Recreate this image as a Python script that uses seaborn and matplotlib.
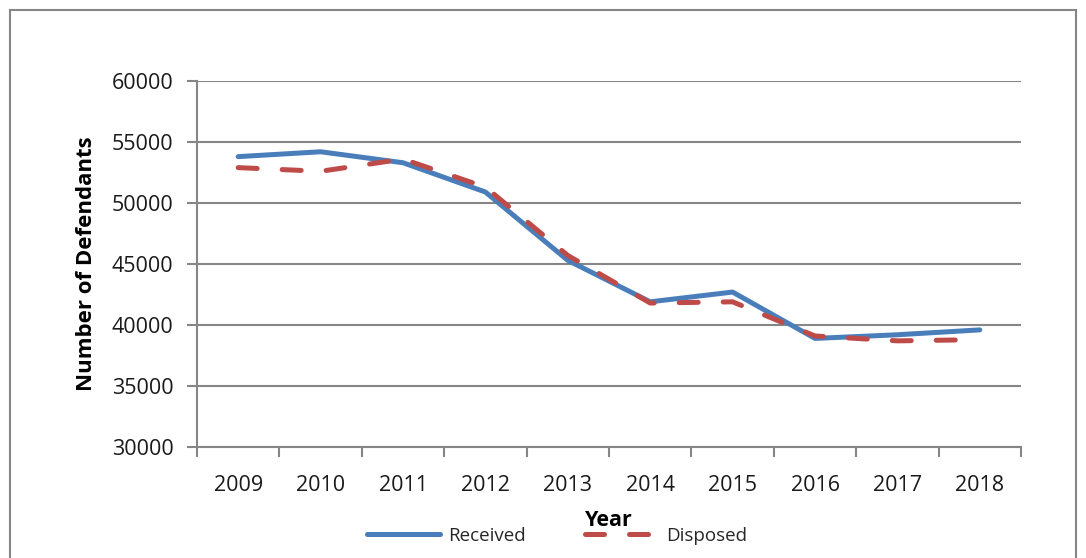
import matplotlib
matplotlib.use("Agg")
import matplotlib.pyplot as plt
import seaborn as sns
import pandas as pd
from matplotlib.patches import Rectangle
from matplotlib.lines import Line2D

years = ["2009", "2010", "2011", "2012", "2013", "2014", "2015", "2016", "2017", "2018"]
received = [53800, 54200, 53300, 50900, 45300, 41900, 42700, 38900, 39200, 39600]
disposed = [52900, 52600, 53600, 51300, 45700, 41800, 41900, 39100, 38700, 38800]

sns.set_theme(style="white")
plt.rcParams['font.family'] = ['Open Sans', 'DejaVu Sans']

W, H = 1086, 558
fig = plt.figure(figsize=(W / 100, H / 100), dpi=100)
ax = fig.add_axes([197 / W, 1 - 447 / H, (1021 - 197) / W, (447 - 81) / H])

# outer chart frame
fig.patches.append(Rectangle((10 / W, -0.05), (1076 - 10) / W, 1 - 10 / H + 0.05,
                             transform=fig.transFigure, fill=False,
                             edgecolor="#868686", linewidth=1.5, zorder=0))

pos = list(range(len(years)))
df = pd.DataFrame({"x": pos + pos,
                   "value": received + disposed,
                   "series": ["Received"] * len(years) + ["Disposed"] * len(years)})

blue = "#4A7EBB"
red = "#BE4B48"
dash = (3.8, 5.0)
sns.lineplot(data=df[df.series == "Received"], x="x", y="value", ax=ax, color=blue,
             linewidth=3.6, solid_capstyle="round", legend=False, zorder=3)
sns.lineplot(data=df[df.series == "Disposed"], x="x", y="value", ax=ax, color=red,
             linewidth=3.6, legend=False, zorder=4)
ax.lines[1].set_dashes(dash)
ax.lines[1].set_dash_capstyle("round")

ax.set_xlim(-0.5, len(years) - 0.5)
ax.set_ylim(30000, 60000)
ax.set_yticks(range(30000, 60001, 5000))
ax.set_yticklabels([str(v) for v in range(30000, 60001, 5000)])
ax.set_xticks(pos)
ax.set_xticklabels(years)
ax.set_xticks([p - 0.5 for p in pos] + [len(years) - 0.5], minor=True)

grid_c = "#868686"
ax.yaxis.grid(True, color=grid_c, linewidth=1.5)
ax.xaxis.grid(False)
for s in ["top", "right"]:
    ax.spines[s].set_visible(False)
for s in ["left", "bottom"]:
    ax.spines[s].set_color(grid_c)
    ax.spines[s].set_linewidth(1.5)

ax.tick_params(axis="x", which="major", length=0, pad=20, labelsize=15.5, colors="#1a1a1a")
ax.tick_params(axis="x", which="minor", length=7, width=1.5, color=grid_c, direction="out", bottom=True)
ax.tick_params(axis="y", which="major", length=7, width=1.5, color=grid_c, direction="out",
               left=True, pad=10, labelsize=15.5, labelcolor="#1a1a1a")

ax.set_xlabel("")
ax.set_ylabel("")
fig.text(86 / W, 1 - 264 / H, "Number of Defendants", rotation=90, ha="center", va="center",
         fontsize=16, fontweight="bold", color="black")
fig.text(609 / W, 1 - 521 / H, "Year", ha="center", va="center",
         fontsize=15.5, fontweight="bold", color="black")

handles = [Line2D([0], [0], color=blue, linewidth=3.6, solid_capstyle="round"),
           Line2D([0], [0], color=red, linewidth=3.6, dashes=dash, dash_capstyle="round")]
fig.legend(handles, ["Received", "Disposed"], loc="center", bbox_to_anchor=(557 / W, 1 - 536 / H),
           ncol=2, frameon=False, fontsize=13.5, handlelength=3.9, columnspacing=3.2,
           handletextpad=0.4)

fig.savefig("out.png", dpi=100)
